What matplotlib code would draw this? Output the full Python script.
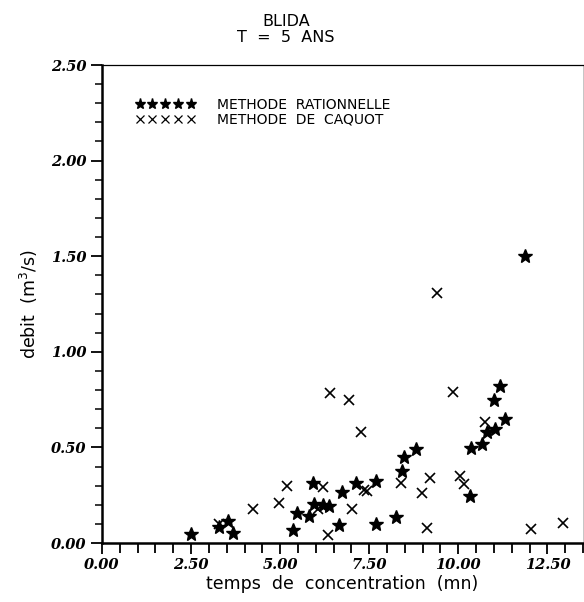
import matplotlib
matplotlib.use("Agg")
from matplotlib import pyplot as plt
from matplotlib.lines import Line2D
from matplotlib.ticker import MultipleLocator, FormatStrFormatter

# methode rationnelle (etoiles)
tc_rat = [2.49, 3.27, 3.53, 3.67, 5.35, 5.47, 5.82, 5.91, 5.96, 6.19,
          6.36, 6.64, 6.73, 7.14, 7.70, 7.70, 8.24, 8.43, 8.47, 8.80,
          10.34, 10.37, 10.66, 10.80, 11.04, 10.99, 11.18, 11.30, 11.87]
q_rat = [0.045, 0.085, 0.117, 0.054, 0.068, 0.155, 0.141, 0.315, 0.204, 0.199,
         0.194, 0.094, 0.265, 0.312, 0.324, 0.099, 0.138, 0.378, 0.448, 0.490,
         0.246, 0.495, 0.520, 0.580, 0.595, 0.750, 0.820, 0.650, 1.500]

# methode de Caquot (croix)
tc_caq = [3.27, 4.23, 4.96, 5.18, 6.05, 6.19, 6.33, 6.39, 6.94, 7.03,
          7.28, 7.35, 7.45, 8.38, 8.97, 9.13, 9.20, 9.40, 9.84, 10.06,
          10.17, 10.76, 12.04, 12.95]
q_caq = [0.100, 0.180, 0.210, 0.300, 0.180, 0.295, 0.042, 0.786, 0.748, 0.176,
         0.582, 0.277, 0.274, 0.312, 0.263, 0.077, 0.338, 1.306, 0.790, 0.350,
         0.309, 0.634, 0.072, 0.103]

tick_font = {'family': 'DejaVu Serif', 'weight': 'bold', 'style': 'italic', 'size': 10.5}

fig = plt.figure(figsize=(5.84, 6.02), dpi=100)
ax = fig.add_axes([0.1747, 0.098, 0.8236, 0.794])

ax.plot(tc_rat, q_rat, linestyle='none', marker='*', color='black', markersize=10)
ax.plot(tc_caq, q_caq, linestyle='none', marker='x', color='black', markersize=7,
        markeredgewidth=1.2)

ax.set_xlim(0, 13.5)
ax.set_ylim(0, 2.5)
ax.xaxis.set_major_locator(MultipleLocator(2.5))
ax.xaxis.set_minor_locator(MultipleLocator(0.5))
ax.yaxis.set_major_locator(MultipleLocator(0.5))
ax.yaxis.set_minor_locator(MultipleLocator(0.1))
ax.xaxis.set_major_formatter(FormatStrFormatter('%.2f'))
ax.yaxis.set_major_formatter(FormatStrFormatter('%.2f'))
ax.tick_params(axis='both', which='major', direction='out', length=8, width=1.3, pad=3)
ax.tick_params(axis='x', which='minor', direction='out', length=7, width=1.3)
ax.tick_params(axis='y', which='minor', direction='out', length=5, width=1.1)
ax.tick_params(top=False, right=False, which='both')
for lab in ax.get_xticklabels() + ax.get_yticklabels():
    lab.set_fontproperties(tick_font)

ax.spines['left'].set_linewidth(1.8)
ax.spines['bottom'].set_linewidth(1.8)
ax.spines['top'].set_linewidth(0.9)
ax.spines['right'].set_linewidth(0.6)
ax.spines['right'].set_color('#bbbbbb')

ax.set_xlabel('temps  de  concentration  (mn)', fontsize=12.5, labelpad=2)
ax.set_ylabel('debit  (m$^3$/s)', fontsize=12.5, labelpad=8)

fig.text(0.49, 0.965, 'BLIDA', ha='center', va='center', fontsize=11.5)
fig.text(0.49, 0.937, 'T  =  5  ANS', ha='center', va='center', fontsize=11.5)

handles = [Line2D([], [], linestyle='none', marker='*', color='black', markersize=8),
           Line2D([], [], linestyle='none', marker='x', color='black', markersize=5.5,
                  markeredgewidth=0.9)]
ax.legend(handles, ['METHODE  RATIONNELLE', 'METHODE  DE  CAQUOT'], loc='upper left',
          bbox_to_anchor=(0.055, 0.945), frameon=False, numpoints=5, handlelength=4.3,
          handletextpad=1.6, labelspacing=0.05, borderpad=0, fontsize=10)

fig.savefig('out.png', dpi=100)
